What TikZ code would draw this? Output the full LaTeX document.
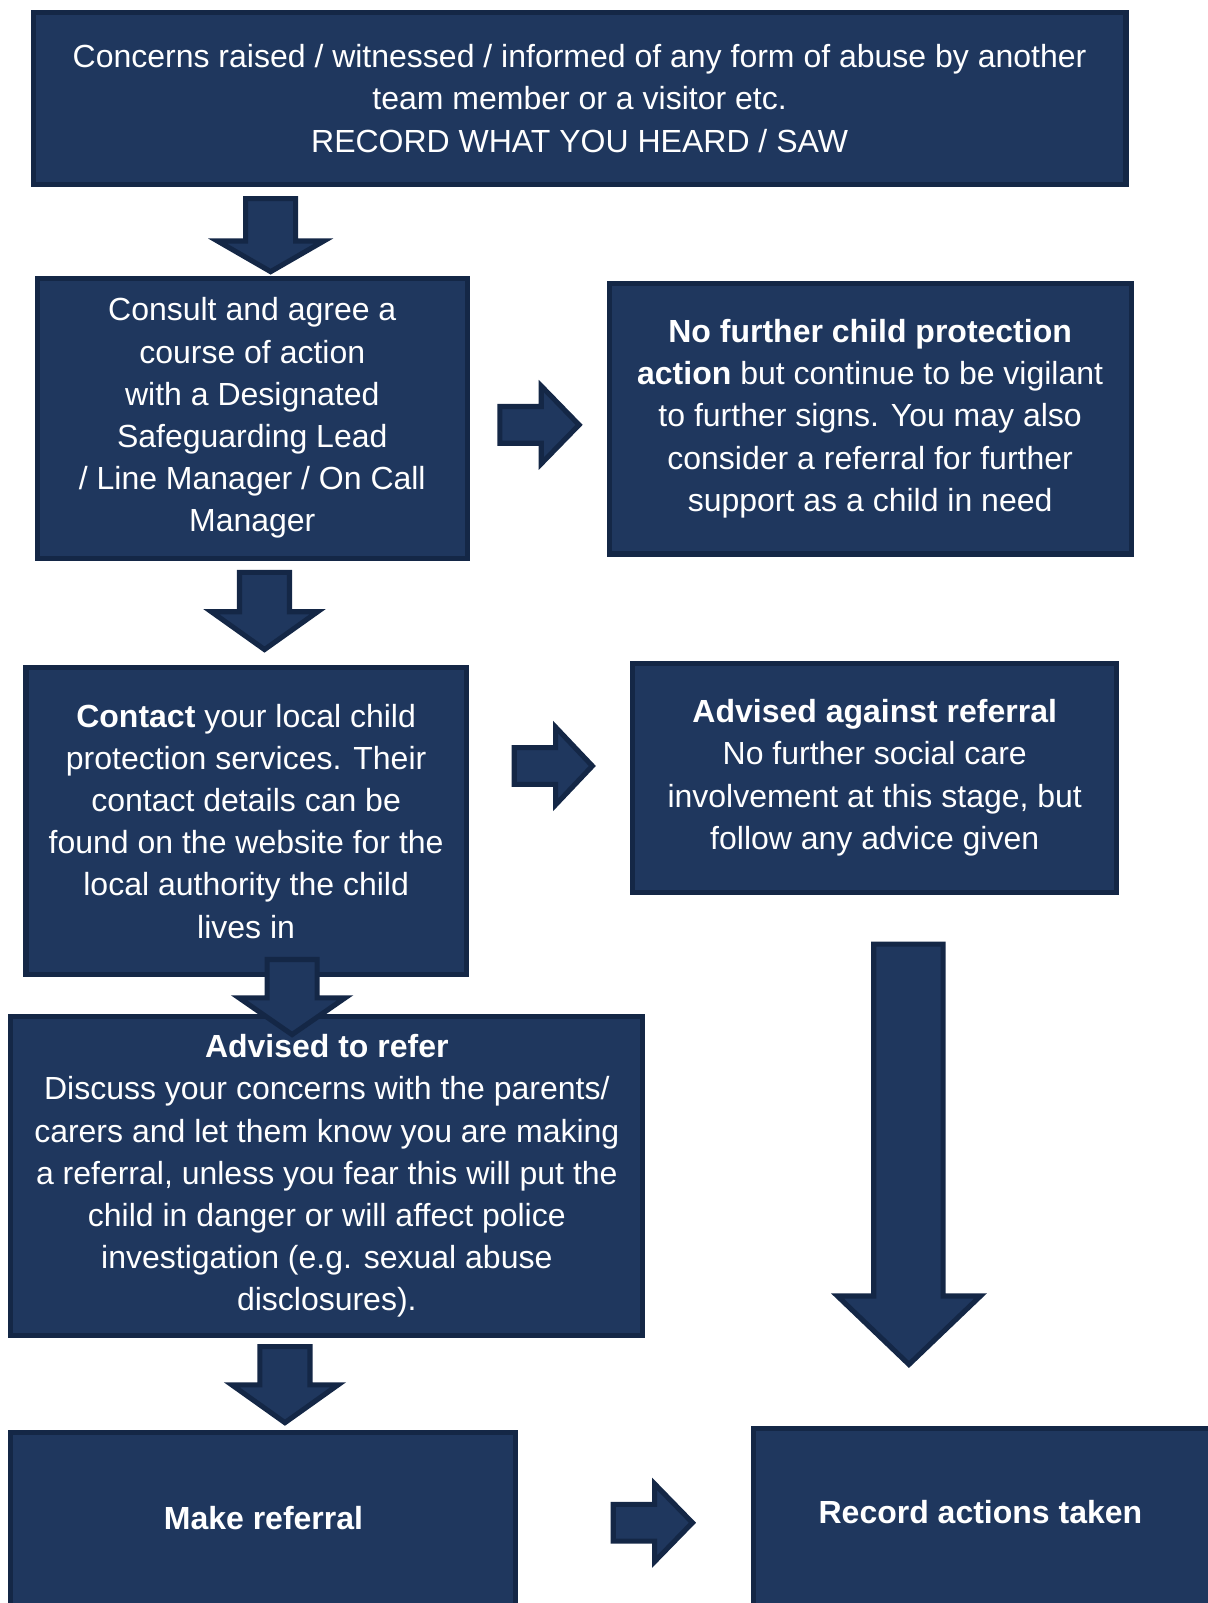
\documentclass[tikz,border=0pt]{standalone}
\usepackage{fontspec}
\setmainfont{Liberation Sans}
\usepackage{tikz}

\definecolor{boxfill}{RGB}{31,55,94}
\definecolor{boxline}{RGB}{20,39,70}
\newcommand{\px}{0.5107pt}
\newcommand{\boxfont}{\fontsize{16}{21.1}\selectfont}

\tikzset{
  box/.style 2 args={draw=boxline, fill=boxfill, line width=2.55pt, text=white,
    align=center, font=\boxfont, inner sep=0pt,
    minimum width=#1*\px, minimum height=#2*\px},
  boxtext/.style={text=white, align=center, font=\boxfont, inner sep=0pt},
  blockarrow/.style={draw=boxline, fill=boxfill, line width=2.55pt, line join=miter}
}

\begin{document}
\begin{tikzpicture}[x=\px, y=-\px]
    \useasboundingbox (0,0) rectangle (1182.8,1569.6);
    \clip (0,0) rectangle (1182.8,1569.6);

    % draw boxes
    \node[box={1070}{168}] (concern) at (567.5,96.5)
      {Concerns raised / witnessed / informed of any form of abuse by another\\
       team member or a visitor etc.\\
       RECORD WHAT YOU HEARD / SAW};
    \node[box={421}{274}] (consult) at (247,409.5)
      {Consult and agree a\\ course of action\\ with a Designated\\
       Safeguarding Lead\\ / Line Manager / On Call\\ Manager};
    \node[box={511}{265}] (nofurther) at (852,410)
      {\textbf{No further child protection}\\
       \textbf{action} but continue to be vigilant\\
       to further signs. You may also\\
       consider a referral for further\\
       support as a child in need};
    \node[box={431}{301}] (contact) at (241,804)
      {\textbf{Contact} your local child\\ protection services. Their\\
       contact details can be\\ found on the website for the\\
       local authority the child\\ lives in};
    \node[box={474}{224}] (against) at (856.5,761.5)
      {\textbf{Advised against referral}\\ No further social care\\
       involvement at this stage, but\\ follow any advice given};
    \node[box={619}{312}] (refer) at (320,1151.5)
      {\textbf{Advised to refer}\\
       Discuss your concerns with the parents/\\
       carers and let them know you are making\\
       a referral, unless you fear this will put the\\
       child in danger or will affect police\\
       investigation (e.g. sexual abuse\\
       disclosures).};
    \node[box={494}{215}] (make) at (257.5,1510) {};
    \node[box={460}{219}] (record) at (967.5,1508) {};
    \node[boxtext] (maketxt) at (258,1486) {\textbf{Make referral}};
    \node[boxtext] (recordtxt) at (960,1481) {\textbf{Record actions taken}};

    % draw down arrows
    \foreach \cx/\yt/\yn/\yb in {265/194.5/236/266, 259/560.5/599/636,
                                 286/939.5/977/1013, 279/1318.5/1356/1393}
      \draw[blockarrow] (\cx-24.5,\yt) -- (\cx+24.5,\yt) -- (\cx+24.5,\yn) -- (\cx+52,\yn)
        -- (\cx,\yb) -- (\cx-52,\yn) -- (\cx-24.5,\yn) -- cycle;

    % draw right arrows
    \foreach \xl/\xn/\xt/\cy in {489.5/530/567/416, 503.5/544/580/750, 600.5/641/678/1491}
      \draw[blockarrow] (\xl,\cy-18) -- (\xn,\cy-18) -- (\xn,\cy-38) -- (\xt,\cy)
        -- (\xn,\cy+38) -- (\xn,\cy+18) -- (\xl,\cy+18) -- cycle;

    % long arrow to record box
    \draw[blockarrow] (855.5,924.5) -- (923.5,924.5) -- (923.5,1269) -- (960,1269)
      -- (890,1336) -- (820,1269) -- (855.5,1269) -- cycle;
\end{tikzpicture}
\end{document}
